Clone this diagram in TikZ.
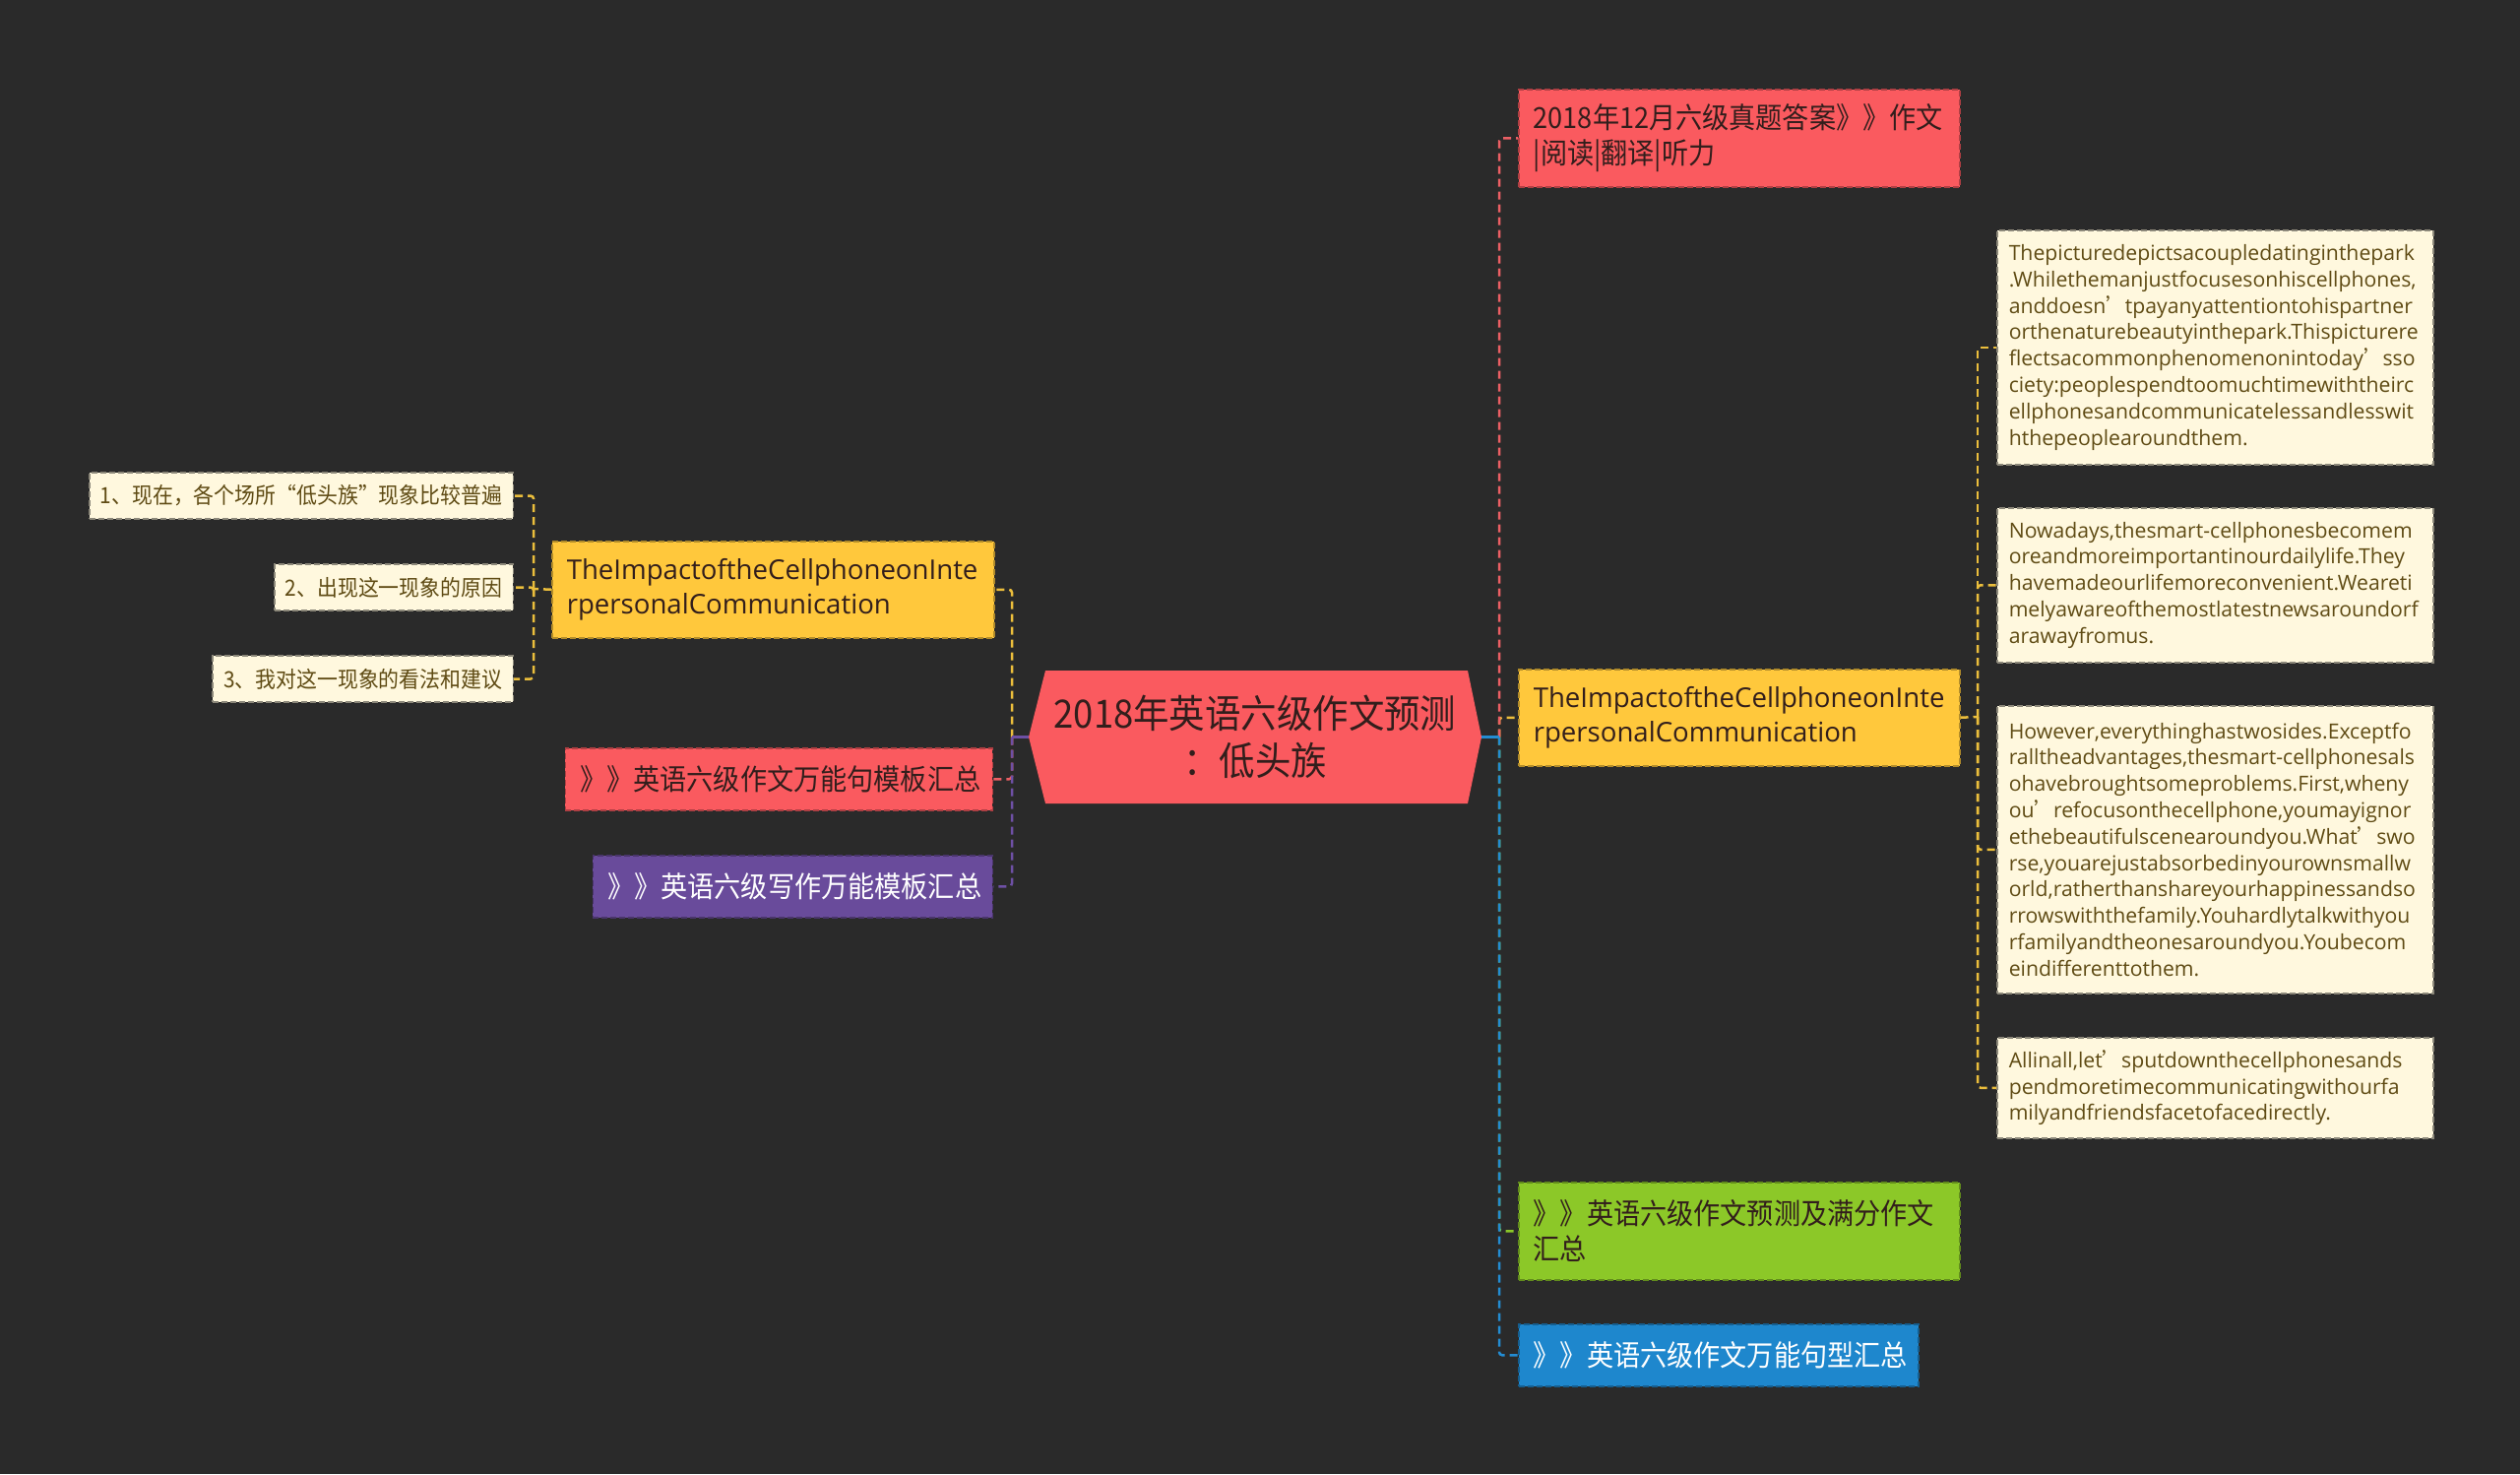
\documentclass[tikz,border=0pt]{standalone}
\usepackage{fontspec}
\setmainfont{Noto Sans CJK SC}[FakeStretch=0.92]
\newfontfamily\cjk{Noto Sans CJK SC}[FakeStretch=0.92]
\newfontfamily\en{Open Sans}
\definecolor{bg}{RGB}{42,42,42}
\definecolor{cred}{RGB}{250,90,95}
\definecolor{cyel}{RGB}{255,200,60}
\definecolor{cgrn}{RGB}{140,200,40}
\definecolor{cblu}{RGB}{30,135,205}
\definecolor{cpur}{RGB}{105,75,155}
\definecolor{ccrm}{RGB}{255,248,222}
\definecolor{tdark}{RGB}{50,30,28}
\definecolor{tcrm}{RGB}{95,75,20}
\definecolor{lred}{RGB}{235,95,100}
\definecolor{lyel}{RGB}{235,190,60}
\definecolor{lgrn}{RGB}{140,200,40}
\definecolor{lblu}{RGB}{35,140,210}
\definecolor{lpur}{RGB}{110,80,165}
\newcommand\fsz[2]{\fontsize{#1}{#2}\selectfont\hyphenpenalty=10000\exhyphenpenalty=10000}
\tikzset{
  box/.style={draw, dash pattern=on 6pt off 3pt, line width=1.5pt, inner xsep=15pt, inner ysep=2pt, align=left},
  crm/.style={box, fill=ccrm, draw=ccrm!55!black, text=tcrm, inner xsep=12pt},
  conn/.style={line width=2.5pt, dash pattern=on 8pt off 5pt, rounded corners=3pt},
  big/.style={font=\fsz{29.5}{35.5}},
  enbig/.style={font=\en\fsz{27.6}{35.5}},
  ensmall/.style={font=\en\fsz{21.2}{26.8}},
  zhsmall/.style={font=\fsz{22.7}{28}},
}
\begin{document}
\begin{tikzpicture}[x=1pt,y=-1pt]
\useasboundingbox (0,0) rectangle (2560,1497);
\fill[bg] (0,0) rectangle (2560,1497);

% center hexagon
\fill[cred] (1045,748.5) -- (1062,681) -- (1491,681) -- (1505,748.5) -- (1491,816) -- (1062,816) -- cycle;
\node[font=\fsz{39.6}{48}, text=tdark, align=center, minimum width=460pt, minimum height=135pt, inner sep=0pt] (c) at (1275,748.5) {2018年英语六级作文预测\\：低头族};

% right first-level
\node[box, big, anchor=north west, fill=cred, draw=cred!70!black, text=tdark, text width=418pt, minimum height=99pt] (r1) at (1542,90) {2018年12月六级真题答案》》作文\\|阅读|翻译|听力};
\node[box, enbig, anchor=north west, fill=cyel, draw=cyel!70!black, text=tdark, text width=418pt, minimum height=98pt] (r2) at (1542,679) {TheImpactoftheCellphoneonInte\\rpersonalCommunication};
\node[box, big, anchor=north west, fill=cgrn, draw=cgrn!70!black, text=tdark, text width=418pt, minimum height=99pt] (r3) at (1542,1200) {》》英语六级作文预测及满分作文\\汇总};
\node[box, big, anchor=north west, fill=cblu, draw=cblu!70!black, text=white, text width=376pt, minimum height=63pt] (r4) at (1542,1344) {》》英语六级作文万能句型汇总};

% left first-level
\node[box, enbig, anchor=north west, fill=cyel, draw=cyel!70!black, text=tdark, text width=419pt, minimum height=98pt] (l1) at (560,549) {TheImpactoftheCellphoneonInte\\rpersonalCommunication};
\node[box, big, anchor=north east, fill=cred, draw=cred!70!black, text=tdark, text width=404pt, minimum height=63pt] (l2) at (1009,759) {》》英语六级作文万能句模板汇总};
\node[box, big, anchor=north east, fill=cpur, draw=cpur!70!black, text=white, text width=376pt, minimum height=63pt] (l3) at (1009,868) {》》英语六级写作万能模板汇总};

% left cream
\node[crm, zhsmall, anchor=east, inner xsep=11pt, minimum height=47pt] (k1) at (522,503.5) {1、现在，各个场所“低头族”现象比较普遍};
\node[crm, zhsmall, anchor=east, inner xsep=11pt, minimum height=47pt] (k2) at (522,596.5) {2、出现这一现象的原因};
\node[crm, zhsmall, anchor=east, inner xsep=11pt, minimum height=47pt] (k3) at (522,689.5) {3、我对这一现象的看法和建议};

% right cream
\node[crm, ensmall, anchor=north west, text width=419pt, minimum height=238pt] (m1) at (2028,233) {Thepicturedepictsacoupledatinginthepark\\.Whilethemanjustfocusesonhiscellphones,\\anddoesn{\cjk ’}tpayanyattentiontohispartner\\orthenaturebeautyinthepark.Thispicturere\\flectsacommonphenomenonintoday{\cjk ’}sso\\ciety:peoplespendtoomuchtimewiththeirc\\ellphonesandcommunicatelessandlesswit\\hthepeoplearoundthem.};
\node[crm, ensmall, anchor=north west, text width=419pt, minimum height=157pt] (m2) at (2028,515) {Nowadays,thesmart-cellphonesbecomem\\oreandmoreimportantinourdailylife.They\\havemadeourlifemoreconvenient.Weareti\\melyawareofthemostlatestnewsaroundorf\\arawayfromus.};
\node[crm, ensmall, anchor=north west, text width=419pt, minimum height=292pt] (m3) at (2028,716) {However,everythinghastwosides.Exceptfo\\ralltheadvantages,thesmart-cellphonesals\\ohavebroughtsomeproblems.First,wheny\\ou{\cjk ’}refocusonthecellphone,youmayignor\\ethebeautifulscenearoundyou.What{\cjk ’}swo\\rse,youarejustabsorbedinyourownsmallw\\orld,ratherthanshareyourhappinessandso\\rrowswiththefamily.Youhardlytalkwithyou\\rfamilyandtheonesaroundyou.Youbecom\\eindifferenttothem.};
\node[crm, ensmall, anchor=north west, text width=419pt, minimum height=102pt] (m4) at (2028,1053) {Allinall,let{\cjk ’}sputdownthecellphonesands\\pendmoretimecommunicatingwithourfa\\milyandfriendsfacetofacedirectly.};

% trunks
\coordinate (tr) at (1523,748.5);
\coordinate (tl) at (1028,748.5);
\coordinate (ty) at (2009,728);
\coordinate (tly) at (542,598);

% right connectors from center
\draw[conn, lgrn] (tr) |- (r3.west);
\draw[conn, lyel] (tr) |- (r2.west);
\draw[conn, lred] (tr) |- (r1.west);
\draw[conn, lblu] (tr) |- (r4.west);
\draw[line width=2.5pt, lblu] (c.east) -- (tr);

% left connectors from center
\draw[conn, lyel] (tl) |- (l1.east);
\draw[conn, lred] (tl) |- (l2.east);
\draw[conn, lpur] (tl) |- (l3.east);
\draw[line width=2.5pt, lpur] (c.west) -- (tl);

% right yellow children
\draw[conn, lyel] (r2.east) -- (ty);
\draw[conn, lyel] (ty) |- (m1.west);
\draw[conn, lyel] (ty) |- (m2.west);
\draw[conn, lyel] (ty) |- (m3.west);
\draw[conn, lyel] (ty) |- (m4.west);

% left yellow children
\draw[conn, lyel] (l1.west) -- (tly);
\draw[conn, lyel] (tly) |- (k1.east);
\draw[conn, lyel] (tly) |- (k2.east);
\draw[conn, lyel] (tly) |- (k3.east);
\end{tikzpicture}
\end{document}
